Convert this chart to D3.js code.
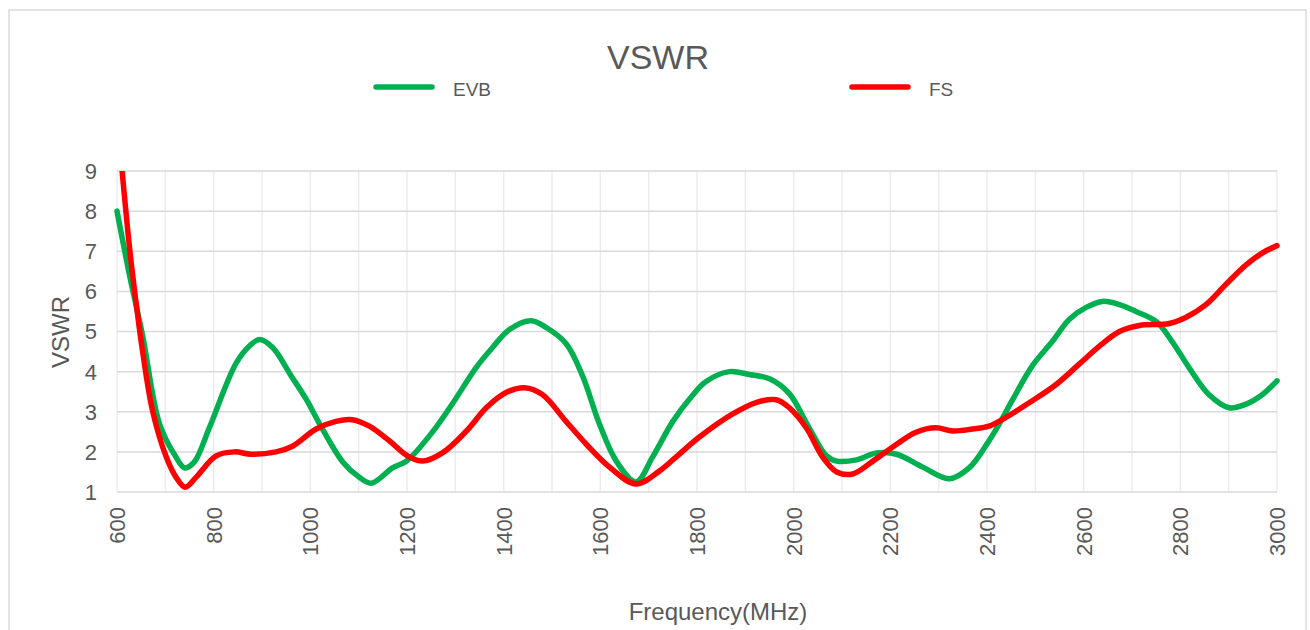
<!DOCTYPE html>
<html>
<head>
<meta charset="utf-8">
<script src="https://cdn.jsdelivr.net/npm/d3@7"></script>
<style>
  body { margin: 0; background: #fff; }
  text { font-family: "Liberation Sans Narrow", "Liberation Sans", Roboto, sans-serif; fill: #595959; }
</style>
</head>
<body>
<div id="chart"></div>
<script>
// VSWR vs frequency, two boards

const evbFreq = [600, 626, 653, 688, 722, 740, 760, 791, 846, 875, 895, 922, 960, 992, 1019, 1067, 1100, 1126, 1170, 1200,
  1253, 1294, 1343, 1377, 1412, 1457, 1488, 1529, 1563, 1598, 1633, 1674, 1708, 1750, 1790, 1818, 1867, 1908, 1950, 1991,
  2032, 2068, 2089, 2130, 2171, 2213, 2267, 2322, 2363, 2400, 2425, 2453, 2494, 2535, 2570, 2605, 2639, 2674, 2708, 2750,
  2783, 2818, 2859, 2901, 2936, 2970, 3000];
const evbVswr = [8.0, 6.4, 4.9, 2.7, 1.87, 1.6, 1.75, 2.6, 4.2, 4.65, 4.8, 4.6, 3.9, 3.3, 2.7, 1.75, 1.38, 1.22, 1.6, 1.78,
  2.5, 3.2, 4.1, 4.6, 5.05, 5.27, 5.1, 4.7, 3.9, 2.7, 1.77, 1.25, 1.87, 2.76, 3.4, 3.75, 4.0, 3.93, 3.82, 3.45,
  2.6, 1.9, 1.77, 1.8, 1.97, 1.94, 1.62, 1.33, 1.6, 2.2, 2.69, 3.3, 4.15, 4.75, 5.3, 5.6, 5.75, 5.67, 5.5, 5.25,
  4.75, 4.1, 3.43, 3.1, 3.19, 3.43, 3.77];

const fsFreq = [600, 626, 640, 653, 674, 702, 722, 741, 764, 805, 843, 877, 929, 963, 1012, 1053, 1087, 1122, 1164, 1201,
  1232, 1274, 1323, 1364, 1405, 1443, 1480, 1529, 1571, 1619, 1674, 1722, 1763, 1805, 1873, 1922, 1964, 1991, 2026, 2060,
  2089, 2122, 2164, 2213, 2253, 2294, 2329, 2370, 2404, 2439, 2488, 2543, 2590, 2632, 2674, 2715, 2777, 2811, 2853, 2894,
  2936, 2970, 3000];
const fsVswr = [10.4, 7.08, 5.67, 4.5, 3.0, 1.87, 1.37, 1.12, 1.37, 1.9, 2.0, 1.94, 2.0, 2.14, 2.57, 2.76, 2.8, 2.64, 2.27, 1.9,
  1.77, 1.98, 2.52, 3.1, 3.48, 3.6, 3.43, 2.76, 2.19, 1.62, 1.2, 1.52, 1.94, 2.37, 2.94, 3.23, 3.3, 3.1, 2.6, 1.87,
  1.5, 1.45, 1.77, 2.19, 2.49, 2.6, 2.52, 2.57, 2.64, 2.86, 3.23, 3.68, 4.18, 4.63, 5.0, 5.15, 5.2, 5.35, 5.67, 6.17,
  6.66, 6.96, 7.14];

const xTicks = d3.range(600, 3001, 200);
const xGrid = d3.range(600, 3001, 100);
const yTicks = [1, 2, 3, 4, 5, 6, 7, 8, 9];

const seriesNames = ["EVB", "FS"];
const seriesColors = ["#00b050", "#ff0000"];

var width = 1310, height = 630;
var margin = {top: 171, right: 32, bottom: 137, left: 117};

const svg = d3.select("#chart")
    .append("svg")
    .attr("width", width)
    .attr("height", height);

// outer frame
svg.append("rect")
    .attr("x", 9).attr("y", 10)
    .attr("width", 1297).attr("height", 660)
    .attr("fill", "none")
    .attr("stroke", "#d9d9d9")
    .attr("stroke-width", 1.5);

const xScale = d3.scaleLinear()
    .domain([600, 3000])
    .range([margin.left, width - margin.right - 1]);
const yScale = d3.scaleLinear()
    .domain([1, 9])
    .range([height - margin.bottom - 1, margin.top]);

// grid
svg.append("g")
    .selectAll("line")
    .data(xGrid)
    .enter()
    .append("line")
        .attr("x1", d => xScale(d)).attr("x2", d => xScale(d))
        .attr("y1", yScale(1)).attr("y2", yScale(9))
        .attr("stroke", "#ececec")
        .attr("stroke-width", 1.5);

svg.append("g")
    .selectAll("line")
    .data(yTicks)
    .enter()
    .append("line")
        .attr("x1", xScale(600)).attr("x2", xScale(3000))
        .attr("y1", d => yScale(d)).attr("y2", d => yScale(d))
        .attr("stroke", "#d9d9d9")
        .attr("stroke-width", 1.5);

// y tick labels
svg.append("g")
    .selectAll("text")
    .data(yTicks)
    .enter()
    .append("text")
        .attr("x", 97)
        .attr("y", d => yScale(d))
        .attr("dy", "0.36em")
        .attr("text-anchor", "end")
        .style("font-size", "22px")
        .text(d => d);

// x tick labels, rotated
svg.append("g")
    .selectAll("text")
    .data(xTicks)
    .enter()
    .append("text")
        .attr("transform", d => `translate(${xScale(d)}, 507) rotate(-90)`)
        .attr("dy", "0.36em")
        .attr("text-anchor", "end")
        .style("font-size", "22px")
        .text(d => d);

// clip so FS start stays inside plot
svg.append("clipPath")
    .attr("id", "plotClip")
    .append("rect")
        .attr("x", xScale(600) - 4).attr("y", yScale(9))
        .attr("width", xScale(3000) - xScale(600) + 8)
        .attr("height", yScale(1) - yScale(9) + 4);

var line = d3.line()
    .x(d => xScale(d[0]))
    .y(d => yScale(d[1]))
    .curve(d3.curveCatmullRom.alpha(0.5));

const evbData = evbFreq.map((f, i) => [f, evbVswr[i]]);
const fsData = fsFreq.map((f, i) => [f, fsVswr[i]]);

[evbData, fsData].forEach(function(data, i) {
    svg.append("path")
        .datum(data)
        .attr("clip-path", "url(#plotClip)")
        .attr("d", line)
        .style("fill", "none")
        .style("stroke", seriesColors[i])
        .style("stroke-width", 5.5)
        .style("stroke-linejoin", "round")
        .style("stroke-linecap", "round");
});

// title
svg.append("text")
    .attr("x", 658).attr("y", 69)
    .attr("text-anchor", "middle")
    .style("font-size", "34px")
    .text("VSWR");

// legend
const legendX = [376, 852];
seriesNames.forEach(function(name, i) {
    svg.append("line")
        .attr("x1", legendX[i]).attr("x2", legendX[i] + 56)
        .attr("y1", 87).attr("y2", 87)
        .attr("stroke", seriesColors[i])
        .attr("stroke-width", 5.5)
        .attr("stroke-linecap", "round");
    svg.append("text")
        .attr("x", legendX[i] + 77).attr("y", 96)
        .style("font-size", "19px")
        .text(name);
});

// axis titles
svg.append("text")
    .attr("transform", "translate(69, 332) rotate(-90)")
    .attr("text-anchor", "middle")
    .style("font-size", "24px")
    .text("VSWR");

svg.append("text")
    .attr("x", 718).attr("y", 620)
    .attr("text-anchor", "middle")
    .style("font-size", "24px")
    .text("Frequency(MHz)");
</script>
</body>
</html>
